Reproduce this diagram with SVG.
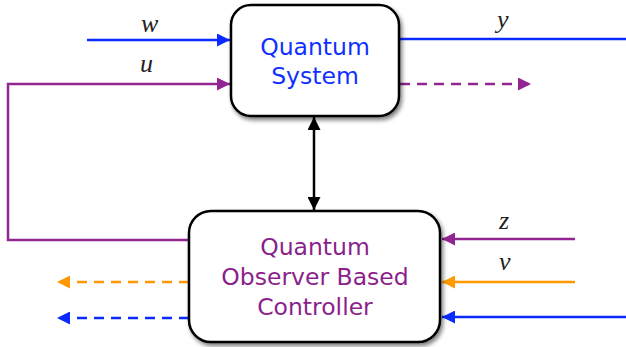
<svg xmlns="http://www.w3.org/2000/svg" width="626" height="347" viewBox="0 0 626 347">
<style>
.box{fill:#fff;stroke:#000;stroke-width:2.5}
.lbl{font-family:"Liberation Serif",serif;font-style:italic;font-size:26px;fill:#222}
.t{font-family:"DejaVu Sans",sans-serif;font-size:23.5px;text-anchor:middle}
.ln{fill:none;stroke-width:2.5}
.dash{stroke-dasharray:10,7}
</style>
<defs>
<filter id="sh" x="-10%" y="-10%" width="130%" height="130%">
<feGaussianBlur in="SourceAlpha" stdDeviation="2"/>
<feOffset dx="2" dy="3" result="o"/>
<feComponentTransfer><feFuncA type="linear" slope="0.5"/></feComponentTransfer>
<feMerge><feMergeNode/><feMergeNode in="SourceGraphic"/></feMerge>
</filter>
<marker id="ab" viewBox="0 0 10 10" refX="10" refY="5" markerWidth="7.2" markerHeight="5.2" markerUnits="strokeWidth" orient="auto"><path d="M0,0L10,5L0,10z" fill="#0a2aff"/></marker>
<marker id="ap" viewBox="0 0 10 10" refX="10" refY="5" markerWidth="7.2" markerHeight="5.2" markerUnits="strokeWidth" orient="auto"><path d="M0,0L10,5L0,10z" fill="#922592"/></marker>
<marker id="ao" viewBox="0 0 10 10" refX="10" refY="5" markerWidth="7.2" markerHeight="5.2" markerUnits="strokeWidth" orient="auto"><path d="M0,0L10,5L0,10z" fill="#ff9900"/></marker>
<marker id="ak" viewBox="0 0 10 10" refX="10" refY="5" markerWidth="7.2" markerHeight="5.2" markerUnits="strokeWidth" orient="auto-start-reverse"><path d="M0,0L10,5L0,10z" fill="#000"/></marker>
</defs>
<g id="connectors">
<path class="ln" stroke="#0a2aff" d="M87,40H230" marker-end="url(#ab)"/>
<path class="ln" stroke="#922592" d="M190,240H8V84H230" marker-end="url(#ap)"/>
<path class="ln" stroke="#0a2aff" d="M399,39H626"/>
<path class="ln dash" stroke="#922592" d="M400,84H531" marker-end="url(#ap)"/>
<path class="ln" stroke="#000" d="M314,117V210" marker-start="url(#ak)" marker-end="url(#ak)"/>
<path class="ln" stroke="#922592" d="M575,239H442" marker-end="url(#ap)"/>
<path class="ln" stroke="#ff9900" d="M575,282H442" marker-end="url(#ao)"/>
<path class="ln" stroke="#0a2aff" d="M626,317H442" marker-end="url(#ab)"/>
<path class="ln dash" stroke="#ff9900" d="M189,282H57" marker-end="url(#ao)"/>
<path class="ln dash" stroke="#0a2aff" d="M189,318H57" marker-end="url(#ab)"/>
<text class="lbl" x="141" y="32">w</text>
<text class="lbl" x="140" y="72">u</text>
<text class="lbl" x="497" y="28">y</text>
<text class="lbl" x="499" y="229">z</text>
<text class="lbl" x="499" y="270">v</text>
</g>
<g id="quantum-system">
<rect class="box" x="231" y="5" width="168" height="111" rx="20" filter="url(#sh)"/>
<text class="t" x="315" y="55" fill="#1030ff">Quantum</text>
<text class="t" x="315" y="84" fill="#1030ff">System</text>
</g>
<g id="controller">
<rect class="box" x="189" y="211" width="251" height="131" rx="22" filter="url(#sh)"/>
<text class="t" x="315" y="255" fill="#8b1f8b">Quantum</text>
<text class="t" x="315" y="285" fill="#8b1f8b">Observer Based</text>
<text class="t" x="315" y="315" fill="#8b1f8b">Controller</text>
</g>
</svg>
